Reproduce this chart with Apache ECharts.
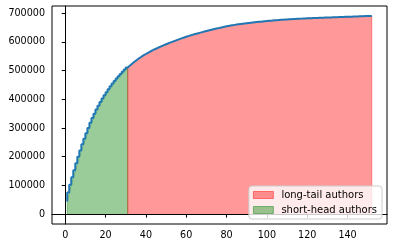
<!DOCTYPE html>
<html><head><meta charset="utf-8">
<script src="https://cdn.jsdelivr.net/npm/echarts@6/dist/echarts.min.js"></script>
<style>html,body{margin:0;padding:0;background:#fff}#c{width:393px;height:248px}</style>
</head><body><div id="c"></div>
<script>
// cumulative value at author rank 1..152
const cumulative = [
  44000, 75000, 102000, 128000, 153000, 177000, 200000, 222000, 243000, 263000,
  282000, 300500, 318000, 334500, 350000, 364500, 378000, 390500, 402500, 414000,
  425000, 435500, 445500, 455000, 464000, 472600, 480800, 488700, 496300, 503600,
  510600, 517200, 523400, 529200, 534700, 539900, 544800, 549400, 553800, 558000,
  562000, 565800, 569450, 572950, 576350, 579650, 582850, 585950, 588950, 591850,
  594700, 597500, 600250, 602950, 605600, 608200, 610750, 613250, 615700, 618100,
  620400, 622600, 624700, 626700, 628650, 630550, 632430, 634280, 636100, 637900,
  639680, 641430, 643150, 644850, 646530, 648180, 649800, 651400, 652980, 654480,
  655880, 657180, 658380, 659480, 660530, 661530, 662480, 663400, 664300, 665180,
  666040, 666880, 667700, 668500, 669280, 670030, 670760, 671470, 672160, 672830,
  673480, 674110, 674720, 675310, 675880, 676430, 676960, 677470, 677960, 678430,
  678880, 679320, 679740, 680150, 680540, 680920, 681280, 681630, 681970, 682300,
  682620, 682930, 683230, 683520, 683800, 684070, 684330, 684580, 684820, 685050,
  685320, 685590, 685860, 686130, 686400, 686670, 686940, 687210, 687480, 687750,
  688000, 688250, 688500, 688750, 689000, 689250, 689500, 689750, 690000, 690250,
  690500, 690750
];
const headCutoff = 31;            // last short-head rank
const xTicks = [0, 20, 40, 60, 80, 100, 120, 140];
const yTicks = [0, 100000, 200000, 300000, 400000, 500000, 600000, 700000];
const seriesNames = ['long-tail authors', 'short-head authors'];

const ranks = cumulative.map((_, i) => i + 1);
const pts = ranks.map((r, i) => [r, cumulative[i]]);
const headPts = pts.filter(p => p[0] <= headCutoff);
const tailPts = pts.filter(p => p[0] >= headCutoff);
const closeShape = arr => [[arr[0][0], 0], ...arr, [arr[arr.length - 1][0], 0]];

// matplotlib-like 5% autoscale margins
const xMinD = ranks[0], xMaxD = ranks[ranks.length - 1];
const yMinD = 0, yMaxD = Math.max(...cumulative);
const xPad = (xMaxD - xMinD) * 0.05, yPad = (yMaxD - yMinD) * 0.05;

const font = 'DejaVu Sans';
const chart = echarts.init(document.getElementById('c'), null, {renderer: 'canvas'});
chart.setOption({
  animation: false,
  backgroundColor: '#fff',
  grid: {left: 52, right: 6, top: 6, bottom: 24, show: true, borderColor: '#000', borderWidth: 1, backgroundColor: 'transparent'},
  xAxis: {
    type: 'value', min: xMinD - xPad, max: xMaxD + xPad,
    axisLine: {show: true, lineStyle: {color: '#000', width: 1}},
    axisTick: {show: true, length: 3.5, lineStyle: {color: '#000'}, customValues: xTicks},
    axisLabel: {customValues: xTicks, color: '#000', fontFamily: font, fontSize: 9.6, margin: 6},
    splitLine: {show: false}
  },
  yAxis: {
    type: 'value', min: yMinD - yPad, max: yMaxD + yPad,
    axisLine: {show: true, lineStyle: {color: '#000', width: 1}},
    axisTick: {show: true, length: 3.5, lineStyle: {color: '#000'}, customValues: yTicks},
    axisLabel: {customValues: yTicks, color: '#000', fontFamily: font, fontSize: 9.6, margin: 7, formatter: v => String(v)},
    splitLine: {show: false}
  },
  legend: {
    orient: 'vertical', right: 11, bottom: 29,
    data: [
      {name: seriesNames[0], itemStyle: {color: 'rgba(255,0,0,0.4)', borderColor: 'rgba(255,0,0,0.45)', borderWidth: 1}},
      {name: seriesNames[1], itemStyle: {color: 'rgba(0,128,0,0.4)', borderColor: 'rgba(0,128,0,0.45)', borderWidth: 1}}
    ],
    icon: 'rect', itemWidth: 20, itemHeight: 7, itemGap: 5,
    padding: [4, 5, 4, 4],
    backgroundColor: 'rgba(255,255,255,0.8)', borderColor: '#cccccc', borderWidth: 1, borderRadius: 3,
    textStyle: {color: '#000', fontFamily: font, fontSize: 10, padding: [0, 0, 0, 3]}
  },
  series: [
    {
      name: seriesNames[1], type: 'line', data: closeShape(headPts), showSymbol: false, symbol: 'none',
      lineStyle: {color: 'rgba(0,128,0,0.4)', width: 1},
      itemStyle: {color: 'rgba(0,128,0,0.4)'},
      areaStyle: {color: 'rgba(0,128,0,0.4)', opacity: 1}, z: 2
    },
    {
      name: seriesNames[0], type: 'line', data: closeShape(tailPts), showSymbol: false, symbol: 'none',
      lineStyle: {color: 'rgba(255,0,0,0.4)', width: 1},
      itemStyle: {color: 'rgba(255,0,0,0.4)'},
      areaStyle: {color: 'rgba(255,0,0,0.4)', opacity: 1}, z: 2
    },
    {
      name: 'cumulative', type: 'line', data: pts, step: 'start', showSymbol: false, symbol: 'none',
      lineStyle: {color: '#1f77b4', width: 2}, z: 3
    }
  ]
});
</script></body></html>
